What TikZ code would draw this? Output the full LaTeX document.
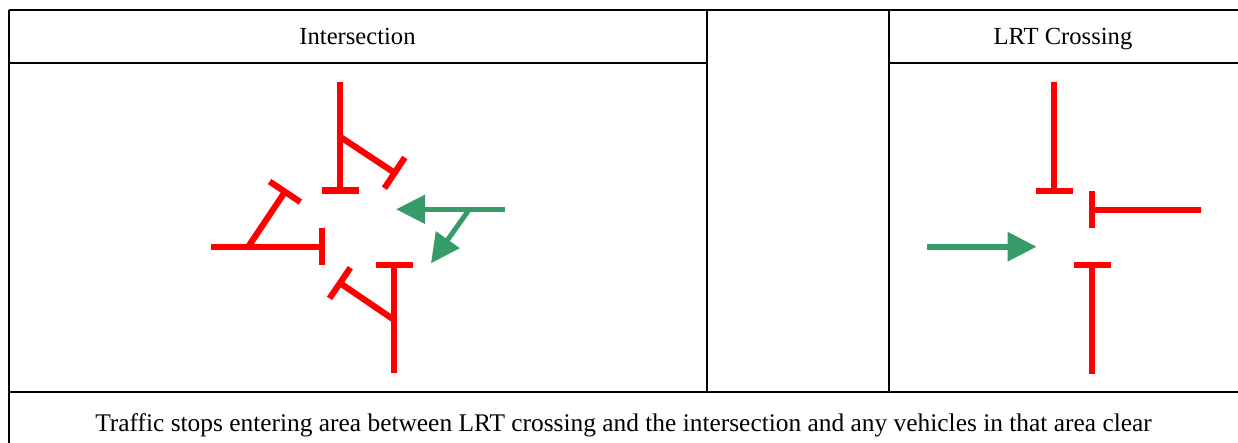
\documentclass[tikz,border=0pt]{standalone}
\usepackage{fontspec}
\setmainfont{Liberation Serif}
\usetikzlibrary{arrows.meta}
\definecolor{stopred}{RGB}{255,0,0}
\definecolor{gogreen}{RGB}{54,155,104}
\begin{document}
\begin{tikzpicture}[x=1pt,y=-1pt,
  rule/.style={line width=2.4pt,black},
  label/.style={inner sep=0pt,anchor=base,font=\fontsize{24.6}{29}\selectfont},
  stopbar/.style={stopred,line width=6.2pt,-{Bar[width=37pt,line width=6.2pt]}},
  go/.style={gogreen,line width=5pt,-{Triangle[length=29pt,width=28pt]}}]
\useasboundingbox (0,0) rectangle (1238,442);

% table frame
\coordinate (tl) at (9,10);
\coordinate (tr) at (1242,10);
\coordinate (bl) at (9,445);
\draw[rule] (tl) -- (tr);
\draw[rule] (tl) -- (bl);
\draw[rule] (9,63) -- (707,63);
\draw[rule] (889,63) -- (1242,63);
\draw[rule] (707,10) -- (707,392);
\draw[rule] (889,10) -- (889,392);
\draw[rule] (9,392) -- (1242,392);

% headings and caption
\node[label] (hint) at (357.5,44.3) {Intersection};
\node[label] (hlrt) at (1063,44.3) {LRT Crossing};
\node[label,font=\fontsize{25.4}{30}\selectfont] (cap) at (623.5,431) {Traffic stops entering area between LRT crossing and the intersection and any vehicles in that area clear};

% intersection: stop bars on each approach
\coordinate (nS) at (340,82);
\coordinate (nE) at (340,193.5);
\coordinate (nJ) at (340,136.7);
\coordinate (nD) at (397.2,174.6);
\draw[stopbar] (nS) -- (nE);
\draw[stopbar] (nJ) -- (nD);

\coordinate (wS) at (211,246.7);
\coordinate (wE) at (324.7,246.7);
\coordinate (wJ) at (248.3,246.7);
\coordinate (wD) at (286.7,189.2);
\draw[stopbar] (wS) -- (wE);
\draw[stopbar] (wJ) -- (wD);

\coordinate (sS) at (394.3,373.3);
\coordinate (sE) at (394.3,262);
\coordinate (sJ) at (394.3,320);
\coordinate (sD) at (337.4,281.3);
\draw[stopbar] (sS) -- (sE);
\draw[stopbar] (sJ) -- (sD);

% intersection: permitted movements from the east
\coordinate (gS) at (505,209.3);
\coordinate (gT) at (396,209.3);
\coordinate (gJ) at (469.3,209.3);
\coordinate (gR) at (431,263.3);
\draw[go] (gS) -- (gT);
\draw[go] (gJ) -- (gR);

% LRT crossing
\coordinate (lnS) at (1054,82);
\coordinate (lnE) at (1054,193.7);
\coordinate (leS) at (1201,209.7);
\coordinate (leE) at (1089,209.7);
\coordinate (lsS) at (1092,373.7);
\coordinate (lsE) at (1092,262);
\draw[stopbar] (lnS) -- (lnE);
\draw[stopbar] (leS) -- (leE);
\draw[stopbar] (lsS) -- (lsE);

\coordinate (lgS) at (927,246.7);
\coordinate (lgT) at (1036.7,246.7);
\draw[go,line width=5.8pt] (lgS) -- (lgT);
\end{tikzpicture}
\end{document}
